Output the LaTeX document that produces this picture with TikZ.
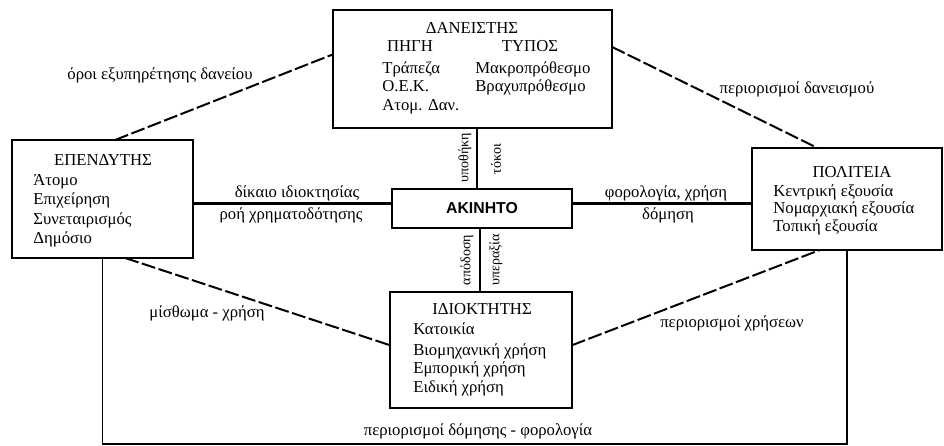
\documentclass[tikz,border=0pt]{standalone}
\usepackage{fontspec}
\setmainfont{Liberation Serif}
\setsansfont{Liberation Sans}

\begin{document}
\begin{tikzpicture}[x=0.02cm, y=-0.02cm, font=\fontsize{9.5}{10}\selectfont]
\useasboundingbox (0,0) rectangle (944,446);
  \begin{scope}[every node/.style={rectangle,draw,line width=0.4mm,inner sep=0pt,outer sep=0pt}]
\node[minimum width=5.58cm, minimum height=2.36cm](lender) at (472.5,69) {};
\node[minimum width=3.62cm, minimum height=2.36cm](investor) at (102.5,199) {};
\node[minimum width=3.8cm, minimum height=2.04cm](state) at (847,199) {};
\node[minimum width=3.64cm, minimum height=2.32cm](owner) at (481,350) {};
\node[minimum width=3.6cm, minimum height=0.78cm, font=\sffamily\bfseries\fontsize{9}{10}\selectfont](property) at (482,208.5) {ΑΚΙΝΗΤΟ};
\end{scope}

  \begin{scope}[every node/.style={inner sep=0pt,anchor=base}]
\node(lendertitle) at (472,34) {ΔΑΝΕΙΣΤΗΣ};
\node(source) at (410,52) {ΠΗΓΗ};
\node(kind) at (530,52) {ΤΥΠΟΣ};
\node(investortitle) at (103,166) {ΕΠΕΝΔΥΤΗΣ};
\node(statetitle) at (852,177) {ΠΟΛΙΤΕΙΑ};
\node(ownertitle) at (482,314) {ΙΔΙΟΚΤΗΤΗΣ};
\end{scope}

  \begin{scope}[every node/.style={inner sep=0pt,anchor=base west}]
\node(bank) at (382,74) {Τράπεζα};
\node(oek) at (382,92) {Ο.Ε.Κ.};
\node(private) at (382,111) {Ατομ. Δαν.};
\node(longterm) at (475,74) {Μακροπρόθεσμο};
\node(shortterm) at (475,92) {Βραχυπρόθεσμο};
\node(person) at (33,186) {Άτομο};
\node(firm) at (33,205) {Επιχείρηση};
\node(coop) at (33,224) {Συνεταιρισμός};
\node(public) at (33,243) {Δημόσιο};
\node(central) at (773,196) {Κεντρική εξουσία};
\node(prefecture) at (773,214) {Νομαρχιακή εξουσία};
\node(local) at (773,232) {Τοπική εξουσία};
\node(housing) at (413,334) {Κατοικία};
\node(industry) at (413,355) {Βιομηχανική χρήση};
\node(commerce) at (413,373) {Εμπορική χρήση};
\node(special) at (413,392) {Ειδική χρήση};
\end{scope}

\draw[line width=0.6mm] ([yshift=3pt]property.west) -- ([yshift=3pt]property.west -| investor.east);
\draw[line width=0.6mm] ([yshift=3pt]property.east) -- ([yshift=3pt]property.east -| state.west);
\draw[line width=0.4mm] ([xshift=-3pt]property.north) -- ([xshift=-3pt]property.north |- lender.south);
\draw[line width=0.4mm] ([xshift=-1pt]property.south) -- ([xshift=-1pt]property.south |- owner.north);

\draw[dash pattern=on 8pt off 2pt, line width=0.4mm] (investor.78) -- (lender.174);
\draw[dash pattern=on 8pt off 2pt, line width=0.4mm] (lender.9) -- (state.120);
\draw[dash pattern=on 8pt off 2pt, line width=0.4mm] (investor.-69) -- (owner.177);
\draw[dash pattern=on 8pt off 2pt, line width=0.4mm] (owner.3) -- (state.242);

\coordinate (base) at (482,444);
\draw[line width=0.3mm] (investor.south) |- (base) -| (state.south);

\node(terms) at (160,75) {όροι εξυπηρέτησης δανείου};
\node(loanlimits) at (797,89) {περιορισμοί δανεισμού};
\node(law) at (297,193) {δίκαιο ιδιοκτησίας};
\node(flow) at (291,215) {ροή χρηματοδότησης};
\node(tax) at (666,193) {φορολογία, χρήση};
\node(building) at (668,215) {δόμηση};
\node(rent) at (207,313) {μίσθωμα - χρήση};
\node(uselimits) at (732,323) {περιορισμοί χρήσεων};
\node(buildlimits) at (478,431) {περιορισμοί δόμησης - φορολογία};
  \begin{scope}[every node/.style={rotate=90,inner sep=0pt,font=\fontsize{8}{9}\selectfont}]
\node(mortgage) at (465,158) {υποθήκη};
\node(interest) at (496,159) {τόκοι};
\node(yield) at (467,260) {απόδοση};
\node(gain) at (496,260) {υπεραξία};
\end{scope}
\end{tikzpicture}
\end{document}
